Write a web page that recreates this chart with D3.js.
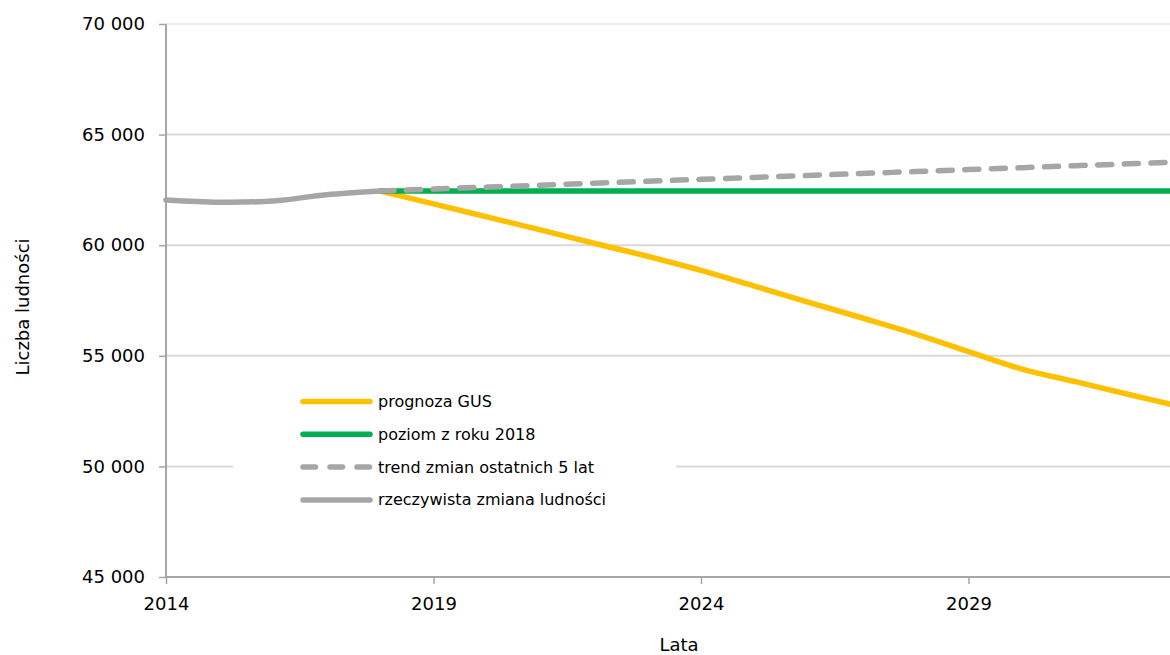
<!DOCTYPE html>
<html lang="pl">
<head>
<meta charset="utf-8">
<script src="https://cdn.jsdelivr.net/npm/d3@7"></script>
<style>
  html, body { margin: 0; padding: 0; background: #ffffff; }
  svg { display: block; font-family: "DejaVu Sans", sans-serif; }
</style>
</head>
<body>
<svg id="chart" width="1170" height="655"></svg>
<script>
// Population of the municipality: actual change and three projections
const years = [2014, 2015, 2016, 2017, 2018, 2019, 2020, 2021, 2022, 2023, 2024,
               2025, 2026, 2027, 2028, 2029, 2030, 2031, 2032, 2033];

const actualYears = [2014, 2015, 2016, 2017, 2018];
const actualValues = [62045, 61945, 62000, 62280, 62450];

const forecastYears = [2018, 2019, 2020, 2021, 2022, 2023, 2024, 2025, 2026,
                       2027, 2028, 2029, 2030, 2031, 2032, 2033];
const gusValues = [62450, 61870, 61280, 60690, 60090, 59500, 58860, 58150, 57430,
                   56720, 55990, 55190, 54400, 53830, 53250, 52680];
const level2018Values = [62450, 62450, 62450, 62450, 62450, 62450, 62450, 62450, 62450,
                         62450, 62450, 62450, 62450, 62450, 62450, 62450];
const trendValues = [62450, 62538, 62626, 62714, 62802, 62890, 62978, 63066, 63154,
                     63242, 63330, 63418, 63506, 63594, 63682, 63770];

const xTickValues = [2014, 2019, 2024, 2029];
const yTickValues = [45000, 50000, 55000, 60000, 65000, 70000];

const seriesNames = ["prognoza GUS", "poziom z roku 2018",
                     "trend zmian ostatnich 5 lat", "rzeczywista zmiana ludności"];

const svg = d3.select("#chart");

const x = d3.scaleLinear().domain([2014, 2033]).range([166, 1182.5]);
const y = d3.scaleLinear().domain([45000, 70000]).range([577, 24]);

const fmt = v => d3.format(",")(v).replace(/,/g, " ");

// horizontal gridlines
svg.append("g")
  .selectAll("line")
  .data(yTickValues.filter(v => v > 45000))
  .join("line")
  .attr("x1", 166).attr("x2", 1170)
  .attr("y1", d => y(d)).attr("y2", d => y(d))
  .attr("stroke", d => d === 70000 ? "#ececec" : "#d9d9d9")
  .attr("stroke-width", 2);

// legend background (hides the gridline behind it)
const legend = svg.append("g");
legend.append("rect")
  .attr("x", 233).attr("y", 382).attr("width", 443).attr("height", 136)
  .attr("fill", "#ffffff");

// axes
const yAxis = svg.append("g")
  .attr("transform", "translate(166,0)")
  .call(d3.axisLeft(y).tickValues(yTickValues).tickFormat(fmt).tickSize(7).tickPadding(14));
const xAxis = svg.append("g")
  .attr("transform", "translate(0,577)")
  .call(d3.axisBottom(x).tickValues(xTickValues).tickFormat(d3.format("d")).tickSize(7).tickPadding(13));

[yAxis, xAxis].forEach(g => {
  g.select(".domain").attr("stroke", "#a6a6a6").attr("stroke-width", 2);
  g.selectAll(".tick line").attr("stroke", "#a6a6a6").attr("stroke-width", 1.5);
  g.selectAll(".tick text")
    .attr("fill", "#000000")
    .attr("font-size", 18)
    .attr("font-family", "DejaVu Sans, sans-serif");
});
xAxis.select(".domain").attr("d", "M166,0H1170");
yAxis.select(".domain").attr("d", "M0,577V24");

// axis titles
svg.append("text")
  .attr("x", 679).attr("y", 644)
  .attr("text-anchor", "middle").attr("dominant-baseline", "central")
  .attr("font-size", 18).attr("fill", "#000000")
  .text("Lata");
svg.append("text")
  .attr("transform", "translate(22,307) rotate(-90)")
  .attr("text-anchor", "middle").attr("dominant-baseline", "central")
  .attr("font-size", 18).attr("fill", "#000000")
  .text("Liczba ludności");

// series lines
const line = d3.line()
  .x(d => x(d[0]))
  .y(d => y(d[1]))
  .curve(d3.curveCatmullRom.alpha(0.5));

const zipSeries = (xs, vs) => xs.map((yr, i) => [yr, vs[i]]);

const series = [
  { name: seriesNames[0], data: zipSeries(forecastYears, gusValues), color: "#FFC000", dash: null },
  { name: seriesNames[1], data: zipSeries(forecastYears, level2018Values), color: "#00B050", dash: null },
  { name: seriesNames[2], data: zipSeries(forecastYears, trendValues), color: "#A6A6A6", dash: "14 12.6" },
  { name: seriesNames[3], data: zipSeries(actualYears, actualValues), color: "#A6A6A6", dash: null }
];

svg.append("g")
  .selectAll("path")
  .data(series)
  .join("path")
  .attr("d", d => line(d.data))
  .attr("fill", "none")
  .attr("stroke", d => d.color)
  .attr("stroke-width", 5.5)
  .attr("stroke-linecap", "round")
  .attr("stroke-linejoin", "round")
  .attr("stroke-dasharray", d => d.dash);

// legend entries
const entry = legend.selectAll("g.entry")
  .data(series)
  .join("g")
  .attr("class", "entry")
  .attr("transform", (d, i) => `translate(0,${401.5 + i * 32.8})`);

entry.append("line")
  .attr("x1", 303).attr("x2", 370)
  .attr("y1", 0).attr("y2", 0)
  .attr("stroke", d => d.color)
  .attr("stroke-width", 5.5)
  .attr("stroke-linecap", "round")
  .attr("stroke-dasharray", d => d.dash ? "12.5 14.5" : null);

entry.append("text")
  .attr("x", 378).attr("y", 0)
  .attr("dominant-baseline", "central")
  .attr("font-size", 16).attr("fill", "#000000")
  .text(d => d.name);
</script>
</body>
</html>
